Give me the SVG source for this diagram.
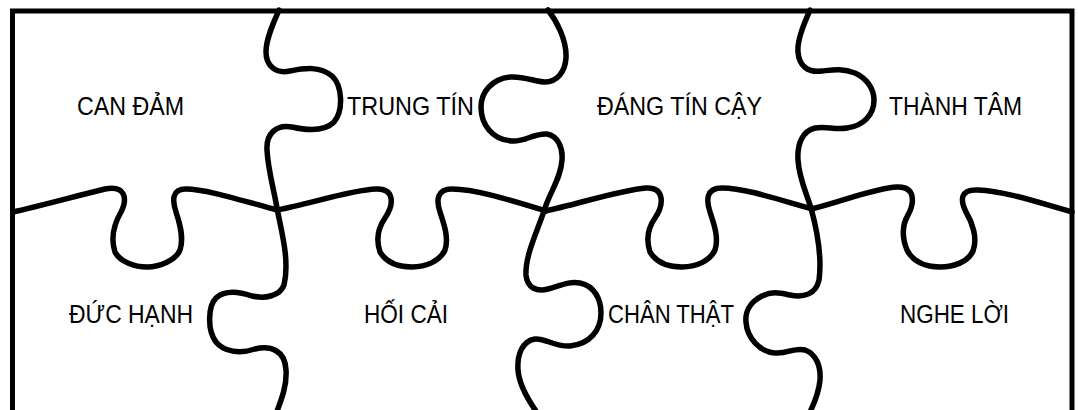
<svg xmlns="http://www.w3.org/2000/svg" width="1078" height="410" viewBox="0 0 1078 410">
<style>
.ln{fill:none;stroke:#000;stroke-width:5.5;stroke-linecap:round;stroke-linejoin:round}
.fr{fill:none;stroke:#000;stroke-width:5;stroke-linejoin:miter}
.t{font-family:"Liberation Sans",Arial,sans-serif;font-size:26px;fill:#000}
</style>
<rect width="1078" height="410" fill="#fff"/>
<g id="connectors">
<path class="fr" d="M12.5,420 V11 H1072 V420"/>
<path class="ln" d="M279,10 C274,22 266,38 266,52 C266,66 276,74 290,71 C305,68 320,66 332,76 C342,85 344,110 334,122 C324,132 305,130 292,127 C276,124 266,134 267,150 C268,170 274,190 277,208 C281,230 290,260 284,285 C280,296 265,299 252,296 C240,292 225,290 216,298 C208,306 207,330 216,342 C224,352 240,354 255,349 C270,345 285,350 286,370 C287,385 282,398 276,414"/>
<path class="ln" d="M548,10 C556,20 567,40 566,58 C565,72 557,82 545,82 C535,82 525,76 510,77 C492,79 481,92 481,107 C481,124 492,140 512,141 C525,142 534,133 547,134 C558,136 563,148 562,160 C561,178 550,192 545,208 C538,230 525,255 526,275 C527,288 537,292 548,289 C560,286 568,281 580,283 C595,286 601,300 601,313 C601,330 590,344 570,346 C555,347 545,338 535,339 C522,341 517,355 518,370 C519,385 528,400 538,414"/>
<path class="ln" d="M810,10 C804,24 797,40 798,52 C799,66 808,73 822,71 C832,70 842,68 855,73 C868,79 874,90 874,100 C874,115 863,126 847,128 C835,130 826,126 815,128 C803,131 797,143 798,160 C799,178 806,192 811,208 C817,230 822,258 819,280 C816,294 804,298 790,295 C780,293 772,291 762,296 C750,302 745,312 746,322 C747,338 760,352 775,353 C788,354 795,347 805,350 C816,354 821,366 820,380 C819,392 815,402 809,414"/>
<path class="ln" d="M13,212 C40,206 80,195 105,189 C125,185 128,198 121,212 C113,226 111,240 115,252 C120,262 135,267 147,267 C160,267 176,260 180,250 C184,238 180,224 176,212 C172,200 172,189 186,189 C205,189 240,200 277,210"/>
<path class="ln" d="M277,210 C310,204 350,190 376,189 C395,188 394,205 385,218 C378,228 376,240 380,252 C386,262 398,267 412,267 C426,267 440,261 445,250 C449,238 444,224 440,212 C436,200 437,189 452,189 C475,189 510,200 546,211"/>
<path class="ln" d="M545,211 C575,205 620,190 646,188 C665,187 664,205 655,218 C648,228 646,240 650,252 C656,262 668,267 682,267 C696,267 710,261 715,250 C719,238 714,224 710,212 C706,200 706,188 722,188 C745,188 780,200 812,209"/>
<path class="ln" d="M811,209 C840,202 875,188 897,187 C915,186 915,202 908,215 C901,227 903,240 907,250 C913,262 926,267 940,267 C954,267 968,262 973,251 C978,238 972,222 966,212 C960,200 960,189 978,190 C1005,191 1040,203 1072,212"/>
</g>
<g id="can-dam"><text class="t" x="77" y="115" textLength="107" lengthAdjust="spacingAndGlyphs">CAN ĐẢM</text></g>
<g id="trung-tin"><text class="t" x="347" y="115" textLength="127" lengthAdjust="spacingAndGlyphs">TRUNG TÍN</text></g>
<g id="dang-tin-cay"><text class="t" x="597" y="115" textLength="165" lengthAdjust="spacingAndGlyphs">ĐÁNG TÍN CẬY</text></g>
<g id="thanh-tam"><text class="t" x="889" y="115" textLength="133" lengthAdjust="spacingAndGlyphs">THÀNH TÂM</text></g>
<g id="duc-hanh"><text class="t" x="69" y="323" textLength="124" lengthAdjust="spacingAndGlyphs">ĐỨC HẠNH</text></g>
<g id="hoi-cai"><text class="t" x="364" y="323" textLength="84" lengthAdjust="spacingAndGlyphs">HỐI CẢI</text></g>
<g id="chan-that"><text class="t" x="608" y="323" textLength="126" lengthAdjust="spacingAndGlyphs">CHÂN THẬT</text></g>
<g id="nghe-loi"><text class="t" x="900" y="323" textLength="109" lengthAdjust="spacingAndGlyphs">NGHE LỜI</text></g>
</svg>
